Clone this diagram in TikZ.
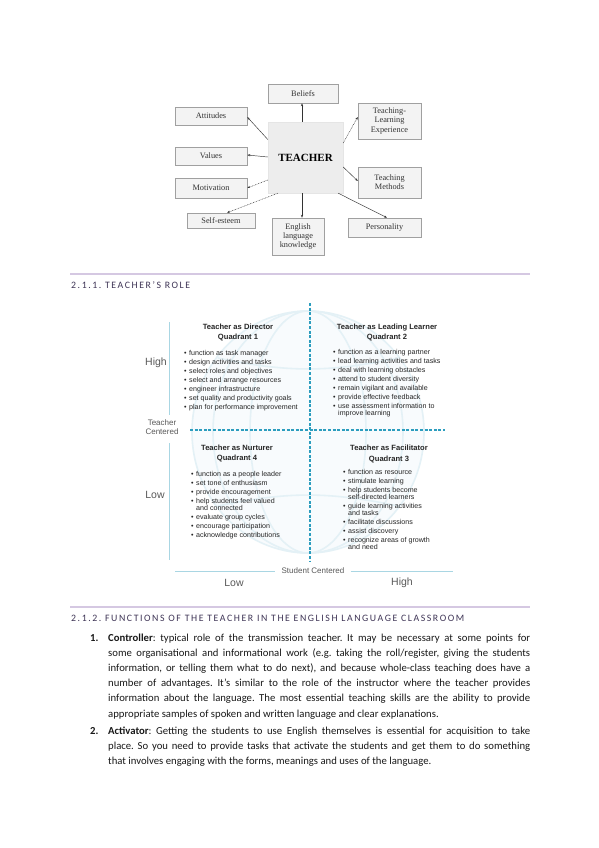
\documentclass[tikz,border=0pt]{standalone}
\usepackage{fontspec}
\setmainfont{Carlito}
\newfontfamily\tnr{Liberation Serif}
\newfontfamily\arl{Liberation Sans}
\newfontfamily\hdfont[LetterSpace=16]{Carlito}
\usetikzlibrary{arrows.meta,shadows}
\definecolor{rulepurple}{HTML}{D5C8E2}
\definecolor{headpurple}{HTML}{3F3556}
\definecolor{dashblue}{HTML}{2C9DBE}
\definecolor{axisblue}{HTML}{A9D6E3}
\definecolor{globeline}{HTML}{E4F1F6}
\definecolor{globefill}{HTML}{F8FBFD}
\definecolor{boxfill}{HTML}{F3F3F3}
\definecolor{boxedge}{HTML}{A0A0A0}
\newcommand{\qb}{\makebox[5pt][l]{•}}
\newcommand{\qw}{\hspace*{5pt}}
\frenchspacing
\begin{document}
\begin{tikzpicture}[x=1pt,y=-1pt,
  tbox/.style={draw=boxedge, fill=boxfill, line width=0.5pt, inner sep=0pt, align=center,
    text=black!80, font=\tnr\fontsize{8.3}{9.3}\selectfont,
    general shadow={shadow xshift=0.9pt, shadow yshift=-0.9pt, fill=black!55}},
  tcenter/.style={draw=gray!20, fill=gray!14, inner sep=0pt, minimum width=75pt, minimum height=71pt,
    font=\tnr\bfseries\fontsize{11}{12}\selectfont},
  arr/.style={-{Stealth[length=3pt,width=2.2pt]}, line width=0.45pt, black!80},
  dotarr/.style={arr, dash pattern=on 0.8pt off 0.8pt},
  divider/.style={rulepurple, line width=1.3pt},
  heading/.style={anchor=west, inner sep=0pt, text=headpurple, font=\hdfont\fontsize{9.8}{11}\selectfont},
  qtitle/.style={align=center, inner sep=0pt, text=black!85, font=\arl\bfseries\fontsize{7.6}{10.8}\selectfont},
  qlist/.style={align=left, anchor=north west, inner sep=0pt, text=black!85, font=\arl\fontsize{7.1}{9}\selectfont},
  axlabel/.style={inner sep=0pt, text=black!65, font=\arl\fontsize{10.5}{12}\selectfont},
  smlabel/.style={inner sep=0pt, align=center, text=black!65, font=\arl\fontsize{8}{9}\selectfont},
  body/.style={anchor=base west, inner sep=0pt, text=black!90, font=\fontsize{10.7}{12}\selectfont},
  dashax/.style={dashblue, line width=1.3pt, dash pattern=on 3pt off 1.6pt},
  solidax/.style={axisblue, line width=0.8pt}]
\useasboundingbox (0,0) rectangle (599,848);
\fill[white] (0,0) rectangle (599,848);

% ---------- top diagram ----------
\node[tbox, minimum width=70pt, minimum height=19pt] (beliefs) at (303,93.5) {Beliefs};
\node[tcenter] (teacher) at (305.5,157.5) {TEACHER};
\node[tbox, minimum width=72pt, minimum height=18pt] (attitudes) at (211,116) {Attitudes};
\node[tbox, minimum width=72pt, minimum height=18pt] (values) at (211,156) {Values};
\node[tbox, minimum width=72pt, minimum height=20pt] (motivation) at (211,188) {Motivation};
\node[tbox, minimum width=68pt, minimum height=15pt] (selfesteem) at (221,220.5) {Self-esteem};
\node[tbox, minimum width=52pt, minimum height=37pt] (english) at (298,236.5) {English\\language\\knowledge};
\node[tbox, minimum width=63pt, minimum height=36pt] (tle) at (389.5,121) {Teaching-\\Learning\\Experience};
\node[tbox, minimum width=63pt, minimum height=31pt] (methods) at (389.5,182.5) {Teaching\\Methods};
\node[tbox, minimum width=73pt, minimum height=19pt] (personality) at (384.5,227.5) {Personality};

\draw[arr] ([xshift=-3.5pt]teacher.north) -- ([xshift=-1pt]beliefs.south);
\draw[arr] ([yshift=18pt]teacher.west) -- ([yshift=-1pt]attitudes.east);
\draw[arr] ([yshift=0.5pt]teacher.west) -- ([yshift=1pt]values.east);
\draw[dotarr] ([yshift=-22.5pt]teacher.west) -- (motivation.east);
\draw[dotarr] ([xshift=10pt]teacher.south west) -- ([xshift=6pt]selfesteem.north);
\draw[arr] ([xshift=-3.5pt]teacher.south) -- ([xshift=4pt]english.north);
\draw[arr] ([xshift=-5pt]teacher.south east) -- ([xshift=2.5pt]personality.north);
\draw[dotarr] ([yshift=14.5pt]teacher.east) -- ([yshift=4pt]tle.west);
\draw[arr] ([yshift=-9.5pt]teacher.east) -- ([yshift=1.5pt]methods.west);

% ---------- heading 1 ----------
\draw[divider] (70,274) -- (530,274);
\node[heading] (h1) at (71,285) {2.1.1. TEACHER’S ROLE};

% ---------- quadrant diagram ----------
\fill[globefill] (308,432) ellipse (116pt and 121pt);
\begin{scope}[globeline, line width=1.6pt]
  \draw (308,432) ellipse (116pt and 121pt);
  \draw (308,432) ellipse (58pt and 121pt);
  \draw (308,432) ellipse (95pt and 121pt);
  \draw (218,358) to[bend right=12] (398,358);
  \draw (218,506) to[bend left=12] (398,506);
\end{scope}

\draw[dashax] (310,303) -- (310,562);
\draw[dashax] (190,430) -- (445,430);
\coordinate (ltop) at (169,322);
\coordinate (lmid1) at (169,415);
\coordinate (lmid2) at (169,443);
\coordinate (lbot) at (169,560);
\draw[solidax] (ltop) -- (lmid1);
\draw[solidax] (lmid2) -- (lbot);

\node[axlabel] (high1) at (156,363) {High};
\node[smlabel] (tcent) at (162,427.5) {Teacher\\Centered};
\node[axlabel] (low1) at (155,495) {Low};
\node[smlabel] (scent) at (313,571) {Student Centered};
\coordinate (bl1) at (175,571);
\coordinate (br2) at (453,571);
\draw[solidax] (bl1) -- ([xshift=-6pt]scent.west);
\draw[solidax] ([xshift=6pt]scent.east) -- (br2);
\node[axlabel] (low2) at (234,582.5) {Low};
\node[axlabel] (high2) at (402,582.5) {High};

\node[qtitle] (q1t) at (238,332.5) {Teacher as Director\\Quadrant 1};
\node[qtitle] (q2t) at (387,332.5) {Teacher as Leading Learner\\Quadrant 2};
\node[qtitle] (q4t) at (237,453.5) {Teacher as Nurturer\\Quadrant 4};
\node[qtitle] (q3t) at (389,454) {Teacher as Facilitator\\Quadrant 3};

\node[qlist] (q1l) at (184,350) {\qb function as task manager\\ \qb design activities and tasks\\ \qb select roles and objectives\\ \qb select and arrange resources\\ \qb engineer infrastructure\\ \qb set quality and productivity goals\\ \qb plan for performance improvement};
\node[qlist] (q2l) at (333,349.5) {\qb function as a learning partner\\ \qb lead learning activities and tasks\\ \qb deal with learning obstacles\\ \qb attend to student diversity\\ \qb remain vigilant and available\\ \qb provide effective feedback\\ \qb use assessment information to\\[-2pt] \qw improve learning};
\node[qlist] (q4l) at (191,471.5) {\qb function as a people leader\\ \qb set tone of enthusiasm\\ \qb provide encouragement\\ \qb help students feel valued\\[-2pt] \qw and connected\\ \qb evaluate group cycles\\ \qb encourage participation\\ \qb acknowledge contributions};
\node[qlist] (q3l) at (343,469.5) {\qb function as resource\\ \qb stimulate learning\\ \qb help students become\\[-2pt] \qw self-directed learners\\ \qb guide learning activities\\[-2pt] \qw and tasks\\ \qb facilitate discussions\\ \qb assist discovery\\ \qb recognize areas of growth\\[-2pt] \qw and need};

% ---------- heading 2 ----------
\draw[divider] (70,607) -- (530,607);
\node[heading] (h2) at (71,618) {2.1.2. FUNCTIONS OF THE TEACHER IN THE ENGLISH LANGUAGE CLASSROOM};

% ---------- body text ----------
\node[body] (n1) at (90,641) {\textbf{1.}};
\node[body] (b1) at (108,641) {\makebox[422pt][s]{\textbf{Controller}: typical role of the transmission teacher. It may be necessary at some points for}};
\node[body] (b2) at (108,656) {\makebox[422pt][s]{some organisational and informational work (e.g. taking the roll/register, giving the students}};
\node[body] (b3) at (108,671) {\makebox[422pt][s]{information, or telling them what to do next), and because whole-class teaching does have a}};
\node[body] (b4) at (108,686) {\makebox[422pt][s]{number of advantages. It’s similar to the role of the instructor where the teacher provides}};
\node[body] (b5) at (108,701) {\makebox[422pt][s]{information about the language. The most essential teaching skills are the ability to provide}};
\node[body] (b6) at (108,717) {appropriate samples of spoken and written language and clear explanations.};
\node[body] (n2) at (90,734) {\textbf{2.}};
\node[body] (b7) at (108,734) {\makebox[422pt][s]{\textbf{Activator}: Getting the students to use English themselves is essential for acquisition to take}};
\node[body] (b8) at (108,749) {\makebox[422pt][s]{place. So you need to provide tasks that activate the students and get them to do something}};
\node[body] (b9) at (108,764) {that involves engaging with the forms, meanings and uses of the language.};
\end{tikzpicture}
\end{document}
